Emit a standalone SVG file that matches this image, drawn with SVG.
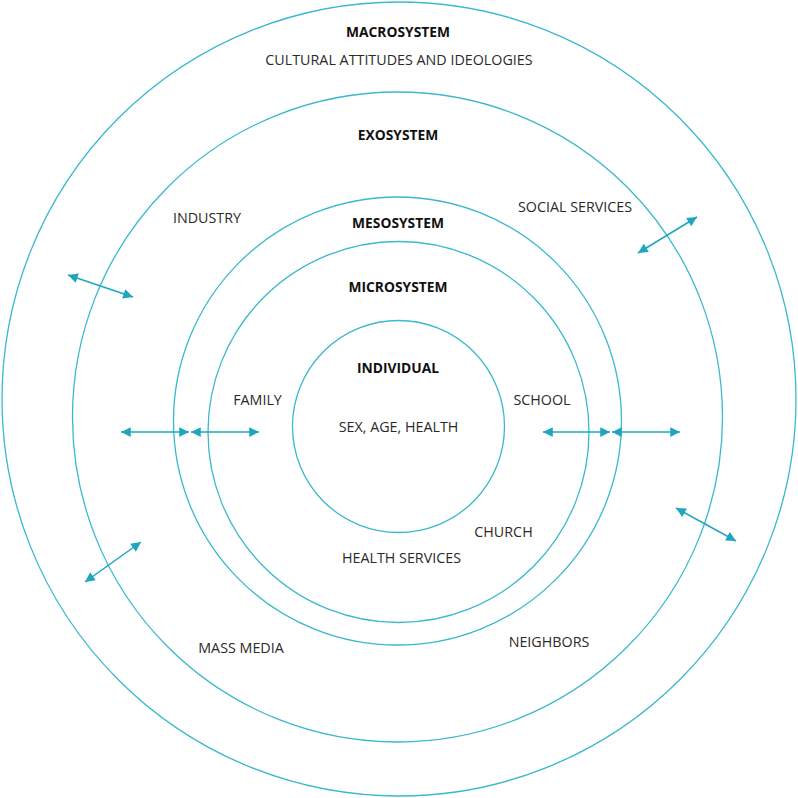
<svg xmlns="http://www.w3.org/2000/svg" width="798" height="798" viewBox="0 0 798 798">
<defs>
<style>
.ring{fill:none;stroke:#3ab8cc;stroke-width:1.3}
.arr{stroke:#1ea6be;stroke-width:1.5;fill:none;marker-start:url(#ah);marker-end:url(#ah)}
.t{font-family:"Open Sans","Noto Sans",sans-serif;font-size:14.3px;fill:#2a2a2a;text-anchor:middle}
.b{font-family:"Open Sans","Noto Sans",sans-serif;font-size:13.8px;font-weight:bold;fill:#111;text-anchor:middle}
</style>
<marker id="ah" viewBox="0 0 10 10" refX="10" refY="5" markerWidth="7" markerHeight="6.5" markerUnits="strokeWidth" orient="auto-start-reverse">
<path d="M0,0 L10,5 L0,10 Z" fill="#1ea6be"/>
</marker>
</defs>
<rect width="798" height="798" fill="#fff"/>
<g id="macrosystem">
<circle class="ring" cx="399" cy="399" r="397"/>
<text class="b" x="398" y="37">MACROSYSTEM</text>
<text class="t" x="399" y="65">CULTURAL ATTITUDES AND IDEOLOGIES</text>
</g>
<g id="exosystem">
<circle class="ring" cx="397.5" cy="417" r="325"/>
<text class="b" x="398" y="140">EXOSYSTEM</text>
<text class="t" x="207" y="223">INDUSTRY</text>
<text class="t" x="575" y="212">SOCIAL SERVICES</text>
<text class="t" x="241" y="653">MASS MEDIA</text>
<text class="t" x="549" y="647">NEIGHBORS</text>
</g>
<g id="mesosystem">
<circle class="ring" cx="397.5" cy="421" r="224"/>
<text class="b" x="398" y="228">MESOSYSTEM</text>
</g>
<g id="microsystem">
<circle class="ring" cx="398.5" cy="432" r="190.5"/>
<text class="b" x="398" y="292">MICROSYSTEM</text>
<text class="t" x="257.5" y="405">FAMILY</text>
<text class="t" x="542" y="405">SCHOOL</text>
<text class="t" x="503.5" y="537">CHURCH</text>
<text class="t" x="401.5" y="563">HEALTH SERVICES</text>
</g>
<g id="individual">
<circle class="ring" cx="398.5" cy="426.5" r="106"/>
<text class="b" x="398" y="373">INDIVIDUAL</text>
<text class="t" x="398.5" y="432">SEX, AGE, HEALTH</text>
</g>
<g id="connectors">
<line class="arr" x1="121" y1="432" x2="189" y2="432"/>
<line class="arr" x1="191" y1="432" x2="259" y2="432"/>
<line class="arr" x1="543" y1="432" x2="610" y2="432"/>
<line class="arr" x1="612" y1="432" x2="680" y2="432"/>
<line class="arr" x1="68" y1="275" x2="133" y2="297"/>
<line class="arr" x1="638" y1="253" x2="697" y2="217"/>
<line class="arr" x1="85" y1="582" x2="141" y2="542"/>
<line class="arr" x1="676" y1="508" x2="736" y2="541"/>
</g>
</svg>
